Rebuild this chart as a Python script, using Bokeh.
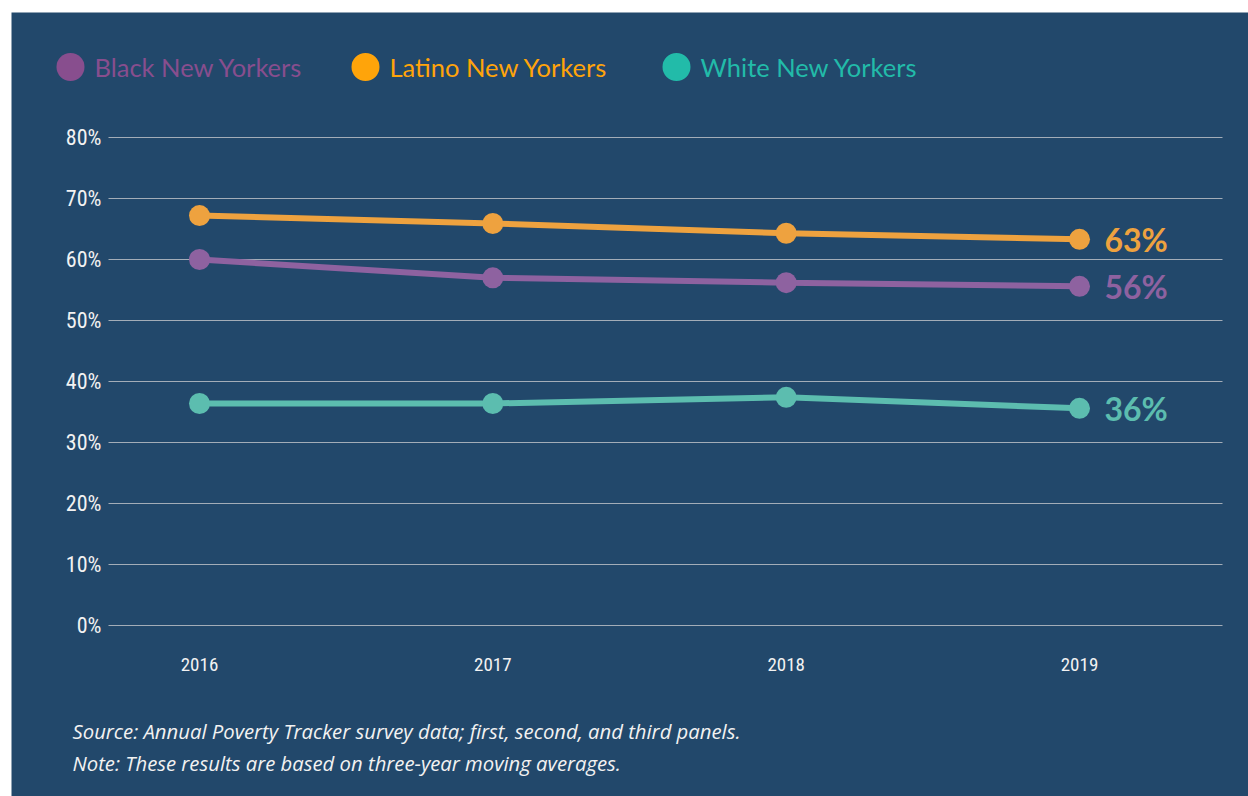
from bokeh.plotting import figure
from bokeh.models import Range1d, ColumnDataSource
from bokeh.core.properties import value
from bokeh.embed import file_html
from bokeh.resources import INLINE

# ---------------- data ----------------
years = [2016, 2017, 2018, 2019]
black = [60.0, 57.0, 56.2, 55.6]
latino = [67.2, 65.9, 64.3, 63.3]
white = [36.4, 36.4, 37.4, 35.6]
series_names = ["Black New Yorkers", "Latino New Yorkers", "White New Yorkers"]
y_ticks = [0, 10, 20, 30, 40, 50, 60, 70, 80]
notes = [
    "Source: Annual Poverty Tracker survey data; first, second, and third panels.",
    "Note: These results are based on three-year moving averages.",
]

# ---------------- style / layout ----------------
BG = "#22486b"
line_colors = ["#8e62a0", "#eea23f", "#5cbdaf"]
legend_colors = ["#884e8e", "#ffa40a", "#22bba9"]
COND = "Roboto Condensed"
PAGE_L, PAGE_T = 11, 12
W, H = 1237, 784

# scale: page pixel geometry of the plotting area
X_PX = (199, 1079)   # pixel x of first / last year
Y_PX = (625, 137)    # pixel y of 0 and 80


def px_x(px):
    return years[0] + (px - X_PX[0]) * (years[-1] - years[0]) / (X_PX[1] - X_PX[0])


def px_y(py):
    return (py - Y_PX[0]) * (y_ticks[-1] - y_ticks[0]) / (Y_PX[1] - Y_PX[0])


GRID_L, GRID_R = 108, 1222
legend_px = [70, 365, 676]
legend_py = 66.5

p = figure(width=W, height=H,
           x_range=Range1d(px_x(PAGE_L), px_x(PAGE_L + W)),
           y_range=Range1d(px_y(PAGE_T + H), px_y(PAGE_T)),
           output_backend="svg", toolbar_location=None, min_border=0,
           background_fill_color=BG, border_fill_color=BG)
p.margin = (PAGE_T, 0, 0, PAGE_L)
p.outline_line_color = None
p.axis.visible = False
p.grid.visible = False

# grid lines and tick labels
grid_src = ColumnDataSource(dict(
    x0=[px_x(GRID_L)] * len(y_ticks), x1=[px_x(GRID_R)] * len(y_ticks), y=y_ticks,
    lx=[px_x(101)] * len(y_ticks), t=[f"{v}%" for v in y_ticks]))
p.segment("x0", "y", "x1", "y", source=grid_src, line_color="#a3adb8", line_width=1)
p.text("lx", "y", text="t", source=grid_src, text_color="#f2f2f2",
       text_font=value(COND), text_font_size="22px",
       text_align="right", text_baseline="middle")
xl_src = ColumnDataSource(dict(x=years, y=[px_y(664)] * len(years), t=[str(v) for v in years]))
p.text("x", "y", text="t", source=xl_src, text_color="#f2f2f2",
       text_font=value(COND), text_font_size="19px",
       text_align="center", text_baseline="middle")

# series
for vals, col in zip([latino, black, white], [line_colors[1], line_colors[0], line_colors[2]]):
    src = ColumnDataSource(dict(x=years, y=vals))
    p.line("x", "y", source=src, line_color=col, line_width=6)
    p.scatter("x", "y", source=src, size=21, color=col, line_color=None)
    end = ColumnDataSource(dict(x=[years[-1]], y=[vals[-1]], t=[f"{round(vals[-1])}%"]))
    p.text("x", "y", text="t", source=end, x_offset=25, text_color=col,
           text_font=value("Lato"), text_font_size="32px", text_font_style="bold",
           text_baseline="middle", text_align="left")

# legend
leg_src = ColumnDataSource(dict(
    x=[px_x(v) for v in legend_px], tx=[px_x(v + 24) for v in legend_px],
    y=[px_y(legend_py)] * 3, name=series_names, color=legend_colors))
p.scatter("x", "y", source=leg_src, size=28, color="color", line_color=None)
p.text("tx", "y", text="name", source=leg_src, text_color="color",
       text_font=value("Lato"), text_font_size="25.5px",
       text_baseline="middle", text_align="left")

# notes
note_src = ColumnDataSource(dict(x=[px_x(72)] * 2, y=[px_y(730), px_y(762)], t=notes))
p.text("x", "y", text="t", source=note_src, text_color="#f2f2f2",
       text_font=value("Open Sans"), text_font_style="italic", text_font_size="20.3px",
       text_baseline="middle", text_align="left")

open("out.html", "w").write(file_html(p, INLINE))
